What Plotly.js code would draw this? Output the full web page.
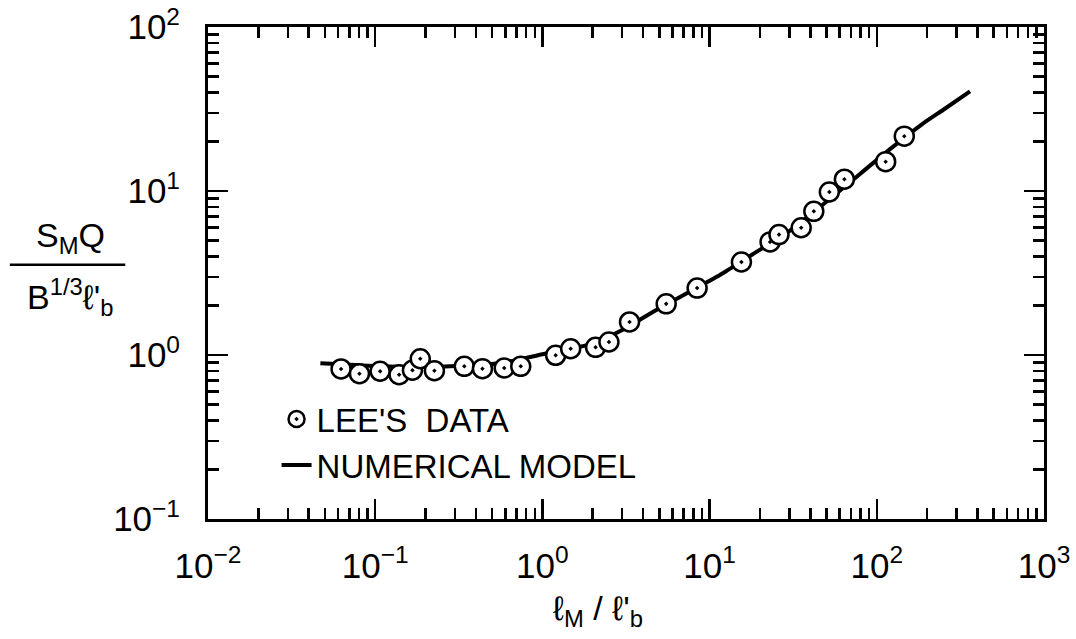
<!DOCTYPE html>
<html>
<head>
<meta charset="utf-8">
<script src="https://cdn.plot.ly/plotly-3.0.1.min.js"></script>
<style>html,body{margin:0;padding:0;background:#fff;}#chart{width:1076px;height:639px;}</style>
</head>
<body>
<div id="chart"></div>
<script>
// Lee's data
const leeX = [0.0625, 0.0805, 0.107, 0.139, 0.167, 0.186, 0.226, 0.341, 0.438, 0.591, 0.742,
              1.20, 1.476, 2.08, 2.50, 3.32, 5.50, 8.42, 15.5, 23.0, 26.0, 35.3, 42.0, 52.0, 64.0, 113, 146];
const leeY = [0.822, 0.769, 0.796, 0.758, 0.807, 0.949, 0.802, 0.853, 0.825, 0.833, 0.853,
              0.996, 1.092, 1.114, 1.20, 1.59, 2.05, 2.56, 3.69, 4.89, 5.42, 5.97, 7.52, 9.86, 11.8, 15.1, 21.6];
// Numerical model curve
const modelX = [0.047, 0.1, 0.2, 0.3, 0.5, 0.7, 1.0, 1.5, 2, 3, 5, 8, 12, 18, 30, 50, 80, 120, 186, 250, 361];
const modelY = [0.89, 0.857, 0.845, 0.857, 0.88, 0.93, 1.01, 1.10, 1.17, 1.42, 1.93, 2.5, 3.15, 4.1, 5.7, 8.6, 12.8, 18.0, 25.5, 31.3, 40.5];
// Tick labels
const xTickVals = [0.01, 0.1, 1, 10, 100, 1000];
const xTickText = ["10<sup>−2</sup>", "10<sup>−1</sup>", "10<sup>0</sup>", "10<sup>1</sup>", "10<sup>2</sup>", "10<sup>3</sup>"];
const yTickVals = [0.1, 1, 10, 100];
const yTickText = ["10<sup>−1</sup>", "10<sup>0</sup>", "10<sup>1</sup>", "10<sup>2</sup>"];

const FONT = "Liberation Sans, Arial, sans-serif";

const traces = [
  {x: modelX, y: modelY, type: 'scatter', mode: 'lines', name: 'NUMERICAL MODEL',
   line: {color: '#000', width: 4, shape: 'spline', smoothing: 0.6}, legendrank: 2},
  {x: leeX, y: leeY, type: 'scatter', mode: 'markers', name: "LEE'S\u00a0\u00a0DATA",
   marker: {symbol: 'circle-dot', size: 19, color: '#fff', line: {color: '#000', width: 2.5}}, legendrank: 1}
];

const axisCommon = {
  type: 'log', showgrid: false, zeroline: false,
  showline: true, linecolor: '#000', linewidth: 3, mirror: 'allticks',
  ticks: 'inside', ticklen: 20, tickwidth: 2.5, tickcolor: '#000',
  tickmode: 'array',
  tickfont: {family: FONT, size: 35, color: '#000'},
  minor: {ticks: 'inside', ticklen: 11, tickwidth: 2.5, tickcolor: '#000', dtick: 'D1', showgrid: false}
};

const layout = {
  width: 1076, height: 639,
  margin: {l: 208, r: 32, t: 27, b: 120},
  paper_bgcolor: '#fff', plot_bgcolor: '#fff',
  font: {family: FONT, color: '#000'},
  showlegend: true,
  legend: {x: 0.082, y: 0.26, xanchor: 'left', yanchor: 'top', bgcolor: 'rgba(0,0,0,0)',
           font: {family: FONT, size: 33, color: '#000'}, tracegroupgap: 0},
  xaxis: Object.assign({}, axisCommon, {range: [-2, 3], tickvals: xTickVals, ticktext: xTickText, ticklabelstandoff: 14}),
  yaxis: Object.assign({}, axisCommon, {range: [-1, 2], tickvals: yTickVals, ticktext: yTickText, ticklabelstandoff: 18}),
  annotations: [
    {xref: 'paper', yref: 'paper', x: -0.165, y: 0.525, xanchor: 'center', yanchor: 'bottom', showarrow: false,
     text: "S<sub>M</sub>Q", font: {family: FONT, size: 34, color: '#000'}},
    {xref: 'paper', yref: 'paper', x: -0.165, y: 0.505, xanchor: 'center', yanchor: 'top', showarrow: false,
     text: "B<sup>1/3</sup>ℓ'<sub>b</sub>", font: {family: FONT, size: 34, color: '#000'}},
    {xref: 'paper', yref: 'paper', x: 0.466, y: -0.138, xanchor: 'center', yanchor: 'top', showarrow: false,
     text: "ℓ<sub>M</sub> / ℓ'<sub>b</sub>", font: {family: FONT, size: 34, color: '#000'}}
  ],
  shapes: [
    {type: 'line', xref: 'paper', yref: 'paper', x0: -0.237, x1: -0.099, y0: 0.517, y1: 0.517,
     line: {color: '#000', width: 2.5}}
  ]
};

Plotly.newPlot('chart', traces, layout, {displayModeBar: false, staticPlot: true});
</script>
</body>
</html>
